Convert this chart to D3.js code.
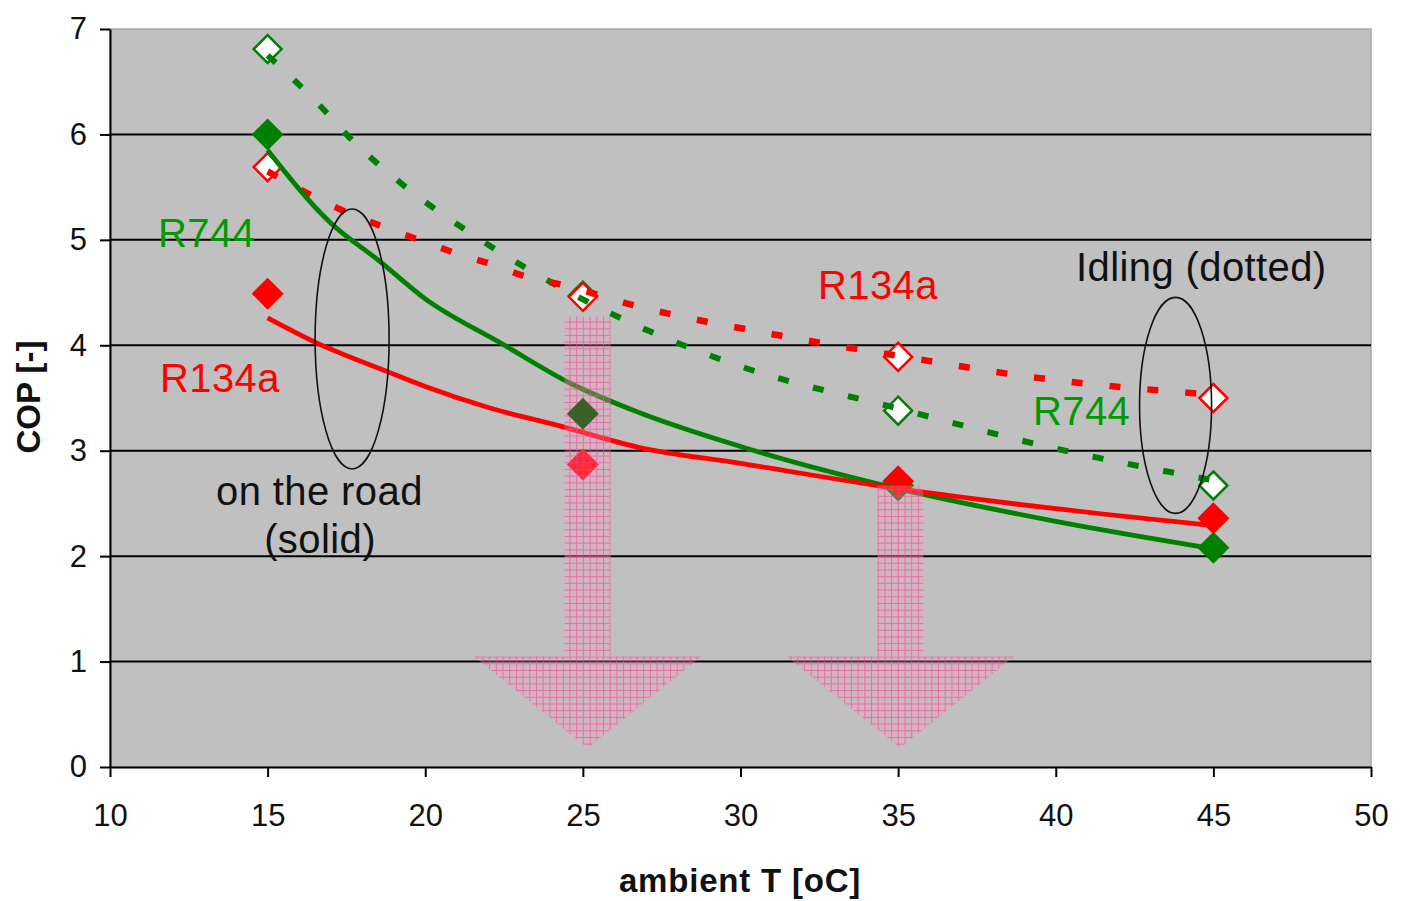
<!DOCTYPE html>
<html><head><meta charset="utf-8">
<script src="https://cdn.jsdelivr.net/npm/d3@7"></script>
<style>body{margin:0;background:#fff;} svg{display:block;font-family:Arial,"Liberation Sans",sans-serif;}</style>
</head><body>
<svg id="chart" width="1402" height="901"></svg>
<script>
// ---- data ----
const temps = [15, 25, 35, 45];
const r744Road  = [6.00, 3.35, 2.67, 2.08];
const r134aRoad = [4.49, 2.87, 2.71, 2.36];
const r744Idle  = [6.81, 4.47, 3.38, 2.67];
const r134aIdle = [5.69, 4.46, 3.89, 3.50];

// trend lines
const r744RoadFitT  = [15, 17, 18.5, 20, 22.4, 24.6, 26.8, 30, 35, 40, 45];
const r744RoadFit   = [5.85, 5.16, 4.81, 4.44, 4.02, 3.64, 3.36, 3.04, 2.64, 2.33, 2.07];
const r134aRoadFitT = [15, 16.5, 18.8, 20, 22, 24.2, 26.8, 30, 35, 40, 45];
const r134aRoadFit  = [4.26, 4.03, 3.75, 3.61, 3.41, 3.24, 3.03, 2.88, 2.64, 2.45, 2.29];
const r744IdleFitT  = [15, 16.7, 17.5, 19.3, 21.4, 23.5, 25.9, 30, 35, 40, 45];
const r744IdleFit   = [6.75, 6.26, 6.0, 5.52, 5.07, 4.68, 4.3, 3.8, 3.4, 3.02, 2.72];
const r134aIdleFitT = [15, 16.4, 17.6, 18.7, 19.8, 21, 22.2, 23.2, 24.4, 26.6, 31.3, 35, 39.2, 45];
const r134aIdleFit  = [5.65, 5.42, 5.25, 5.12, 5.0, 4.87, 4.76, 4.65, 4.57, 4.38, 4.09, 3.9, 3.7, 3.53];

const xTicks = [10, 15, 20, 25, 30, 35, 40, 45, 50];
const yTicks = [0, 1, 2, 3, 4, 5, 6, 7];

// down arrows (center temperature, top of shaft in COP)
const arrowT   = [25.15, 35.07];
const arrowTop = [4.27, 2.67];

// annotation ellipses (center T, center COP)
const ellipseT   = [17.68, 43.8];
const ellipseCOP = [4.06, 3.43];

// ---- layout ----
const svg = d3.select("#chart");
const x = d3.scaleLinear().domain([10, 50]).range([110, 1371]);
const y = d3.scaleLinear().domain([0, 7]).range([767, 29]);
const GREEN = "#008000", RED = "#ff0000";

// pattern for arrows
const defs = svg.append("defs");
const pat = defs.append("pattern").attr("id", "hatch").attr("patternUnits", "userSpaceOnUse")
  .attr("width", 6.7).attr("height", 6.7);
pat.append("rect").attr("width", 6.7).attr("height", 6.7).attr("fill", "rgba(255,150,195,0.28)");
pat.append("path").attr("d", "M0,0.5H6.7M0.5,0V6.7").attr("stroke", "rgba(235,70,145,0.6)").attr("stroke-width", 1);

// plot background
svg.append("rect").attr("x", x(10)).attr("y", y(7)).attr("width", x(50) - x(10)).attr("height", y(0) - y(7))
  .attr("fill", "#c0c0c0").attr("stroke", "#a8a8a8").attr("stroke-width", 1.5);

// gridlines
svg.append("g").selectAll("line").data(yTicks.filter(d => d > 0 && d < 7)).join("line")
  .attr("x1", x(10)).attr("x2", x(50)).attr("y1", d => y(d)).attr("y2", d => y(d))
  .attr("stroke", "#000").attr("stroke-width", 2);

// markers
function diamond(cx, cy, r) { return `M${cx},${cy - r}L${cx + r},${cy}L${cx},${cy + r}L${cx - r},${cy}Z`; }
const idle = [{v: r744Idle, c: GREEN}, {v: r134aIdle, c: RED}];
idle.forEach(s => {
  svg.append("g").selectAll("path").data(temps.map((t, i) => [t, s.v[i]])).join("path")
    .attr("d", d => diamond(x(d[0]), y(d[1]), 14)).attr("fill", "#fff").attr("stroke", s.c).attr("stroke-width", 2.5);
});
const greenRoad = temps.map((t, i) => [t, r744Road[i], i]);
svg.append("g").selectAll("path").data(greenRoad.filter(d => d[2] !== 1)).join("path")
  .attr("d", d => diamond(x(d[0]), y(d[1]), 16)).attr("fill", GREEN);
svg.append("g").selectAll("path").data(temps.map((t, i) => [t, r134aRoad[i]])).join("path")
  .attr("d", d => diamond(x(d[0]), y(d[1]), 16)).attr("fill", RED);

// trend lines
const line = d3.line().x(d => x(d[0])).y(d => y(d[1])).curve(d3.curveMonotoneX);
function fit(T, V) { return T.map((t, i) => [t, V[i]]); }
svg.append("path").attr("d", line(fit(r744IdleFitT, r744IdleFit))).attr("fill", "none")
  .attr("stroke", GREEN).attr("stroke-width", 6).attr("stroke-dasharray", "11,25");
svg.append("path").attr("d", line(fit(r134aIdleFitT, r134aIdleFit))).attr("fill", "none")
  .attr("stroke", RED).attr("stroke-width", 6.5).attr("stroke-dasharray", "11,27");
svg.append("path").attr("d", line(fit(r744RoadFitT, r744RoadFit))).attr("fill", "none")
  .attr("stroke", GREEN).attr("stroke-width", 4.8);
svg.append("path").attr("d", line(fit(r134aRoadFitT, r134aRoadFit))).attr("fill", "none")
  .attr("stroke", RED).attr("stroke-width", 4.8);

// arrows
const shaftHalf = 0.73, headHalf = 3.62, headTop = 1.05, tipCOP = 0.18;
svg.append("g").selectAll("path").data(arrowT.map((t, i) => [t, arrowTop[i]])).join("path")
  .attr("d", d => {
    const t = d[0];
    return `M${x(t - shaftHalf)},${y(d[1])}L${x(t + shaftHalf)},${y(d[1])}L${x(t + shaftHalf)},${y(headTop)}` +
      `L${x(t + headHalf)},${y(headTop)}L${x(t)},${y(tipCOP)}L${x(t - headHalf)},${y(headTop)}L${x(t - shaftHalf)},${y(headTop)}Z`;
  })
  .attr("fill", "url(#hatch)");

// R744 on-road marker at 25 sits darker inside the arrow
svg.append("g").selectAll("path").data(greenRoad.filter(d => d[2] === 1)).join("path")
  .attr("d", d => diamond(x(d[0]), y(d[1]), 16)).attr("fill", "#3a6226");

// ellipses
const ellR = [[37, 130], [36, 108]];
svg.append("g").selectAll("ellipse").data(ellipseT.map((t, i) => [t, ellipseCOP[i], ellR[i]])).join("ellipse")
  .attr("cx", d => x(d[0])).attr("cy", d => y(d[1])).attr("rx", d => d[2][0]).attr("ry", d => d[2][1])
  .attr("fill", "none").attr("stroke", "#111").attr("stroke-width", 1.6);

// annotation texts
const ann = [
  {t: "R744", x: 158, y: 247, c: "#009a00"},
  {t: "R134a", x: 160, y: 392, c: RED},
  {t: "on the road", x: 216, y: 505, c: "#111"},
  {t: "(solid)", x: 320, y: 553, c: "#111", a: "middle"},
  {t: "R134a", x: 818, y: 299, c: RED},
  {t: "Idling (dotted)", x: 1076, y: 281, c: "#111"},
  {t: "R744", x: 1033, y: 425, c: "#009a00"}
];
svg.append("g").selectAll("text").data(ann).join("text")
  .attr("x", d => d.x).attr("y", d => d.y).attr("fill", d => d.c).attr("text-anchor", d => d.a || "start")
  .attr("font-size", 40).attr("letter-spacing", 0.4).text(d => d.t);

// axes
const gx = svg.append("g").attr("transform", `translate(0,${y(0)})`)
  .call(d3.axisBottom(x).tickValues(xTicks).tickSize(10).tickSizeOuter(0).tickPadding(27).tickFormat(d3.format("d")));
const gy = svg.append("g").attr("transform", `translate(${x(10)},0)`)
  .call(d3.axisLeft(y).tickValues(yTicks).tickSize(10).tickSizeOuter(0).tickPadding(13).tickFormat(d3.format("d")));
[gx, gy].forEach(g => {
  g.select(".domain").attr("stroke", "#000").attr("stroke-width", 2);
  g.selectAll(".tick line").attr("stroke", "#000").attr("stroke-width", 2);
  g.selectAll(".tick text").attr("font-size", 31).attr("fill", "#111").attr("font-family", "Arial, 'Liberation Sans', sans-serif");
});

// axis titles
svg.append("text").attr("x", 740).attr("y", 892).attr("text-anchor", "middle").attr("font-weight", "bold")
  .attr("font-size", 33).attr("letter-spacing", 0.8).attr("fill", "#111").text("ambient T [oC]");
svg.append("text").attr("transform", "translate(40,397) rotate(-90)").attr("text-anchor", "middle")
  .attr("font-weight", "bold").attr("font-size", 33).attr("fill", "#111").text("COP [-]");
</script>
</body></html>
